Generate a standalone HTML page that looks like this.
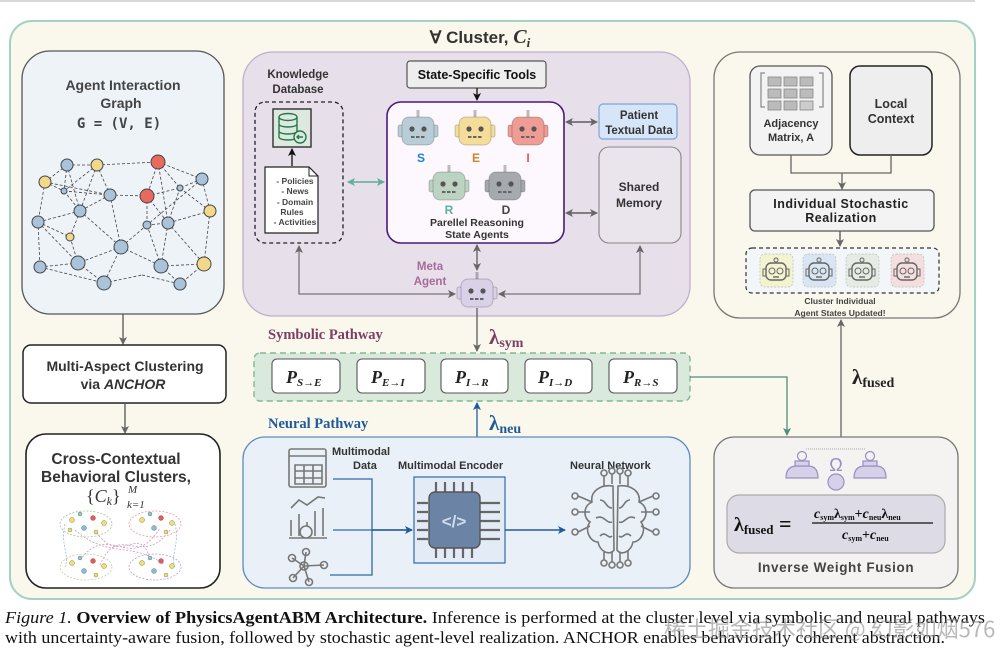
<!DOCTYPE html>
<html><head><meta charset="utf-8"><style>
html,body{margin:0;padding:0;background:#fff;}
svg{display:block;font-family:"Liberation Sans",sans-serif;}
</style></head><body>
<svg width="1008" height="660" viewBox="0 0 1008 660" xmlns="http://www.w3.org/2000/svg">
<defs>
<marker id="ag" markerWidth="8" markerHeight="8" refX="7" refY="4" orient="auto" markerUnits="userSpaceOnUse"><path d="M0,0 L8,4 L0,8 L2,4 Z" fill="#666"/></marker>
<marker id="ags" markerWidth="8" markerHeight="8" refX="1" refY="4" orient="auto" markerUnits="userSpaceOnUse"><path d="M8,0 L0,4 L8,8 L6,4 Z" fill="#666"/></marker>
<marker id="ak" markerWidth="8" markerHeight="8" refX="7" refY="4" orient="auto" markerUnits="userSpaceOnUse"><path d="M0,0 L8,4 L0,8 L2,4 Z" fill="#111"/></marker>
<marker id="agr" markerWidth="8" markerHeight="8" refX="7" refY="4" orient="auto" markerUnits="userSpaceOnUse"><path d="M0,0 L8,4 L0,8 L2,4 Z" fill="#5fae98"/></marker>
<marker id="agrs" markerWidth="8" markerHeight="8" refX="1" refY="4" orient="auto" markerUnits="userSpaceOnUse"><path d="M8,0 L0,4 L8,8 L6,4 Z" fill="#5fae98"/></marker>
<marker id="agn" markerWidth="8" markerHeight="8" refX="7" refY="4" orient="auto" markerUnits="userSpaceOnUse"><path d="M0,0 L8,4 L0,8 L2,4 Z" fill="#4d8f7a"/></marker>
<marker id="abl" markerWidth="8" markerHeight="8" refX="7" refY="4" orient="auto" markerUnits="userSpaceOnUse"><path d="M0,0 L8,4 L0,8 L2,4 Z" fill="#1f5a9a"/></marker>
<g id="rb">
<line x1="0" y1="-21" x2="0" y2="-14" stroke="rgba(0,0,0,0.25)" stroke-width="3"/>
<rect x="-20" y="-6" width="6" height="12" rx="2" stroke="rgba(0,0,0,0.2)"/>
<rect x="14" y="-6" width="6" height="12" rx="2" stroke="rgba(0,0,0,0.2)"/>
<rect x="-16" y="-14" width="32" height="28" rx="7" stroke="rgba(0,0,0,0.2)"/>
<circle cx="-6" cy="-2" r="2.6" fill="#555"/><circle cx="6" cy="-2" r="2.6" fill="#555"/>
<line x1="-7" y1="6" x2="7" y2="6" stroke="#666" stroke-width="2" stroke-dasharray="3.5 1.5"/>
</g>
<g id="rs">
<circle cx="0" cy="-12" r="2" fill="none" stroke="#666"/>
<rect x="-10" y="-9" width="20" height="17" rx="5" fill="none" stroke="#666" stroke-width="1.4"/>
<circle cx="-4" cy="-1" r="3" fill="none" stroke="#666"/><circle cx="4" cy="-1" r="3" fill="none" stroke="#666"/>
<line x1="-3" y1="5" x2="3" y2="5" stroke="#666" stroke-width="1.4"/>
<rect x="-13" y="-3" width="3" height="7" fill="none" stroke="#666"/><rect x="10" y="-3" width="3" height="7" fill="none" stroke="#666"/>
</g>
</defs>

<line x1="0" y1="1" x2="975" y2="1" stroke="#ccc" stroke-width="1.5"/>
<rect x="10" y="21" width="965" height="578" rx="22" fill="#faf7ec" stroke="#a3d2c2" stroke-width="2"/>
<text x="480" y="43" text-anchor="middle" font-size="17" font-weight="bold" fill="#333">∀ Cluster, <tspan font-family="Liberation Serif,serif" font-style="italic" font-size="20">C</tspan><tspan font-family="Liberation Serif,serif" font-style="italic" font-size="13" dy="4">i</tspan></text>

<rect x="22" y="51" width="202" height="263" rx="28" fill="#eef3f8" stroke="#555" stroke-width="1.3"/>
<text x="123" y="90" text-anchor="middle" font-size="14" font-weight="bold" fill="#444">Agent Interaction</text>
<text x="121" y="108" text-anchor="middle" font-size="14" font-weight="bold" fill="#444">Graph</text>
<text x="119" y="128" text-anchor="middle" font-size="14" font-weight="bold" fill="#444" font-family="DejaVu Sans Mono,monospace">G = (V, E)</text>
<g stroke="#444" stroke-width="0.8" stroke-dasharray="3 2" fill="none">
<path d="M67,165L97,165M97,165L158,162M158,162L202,179M67,165L45,182M67,165L64,191M97,165L64,191M97,165L110,195M158,162L147,196M158,162L180,188M202,179L180,188M202,179L210,211M45,182L64,191M45,182L38,222M64,191L110,195M64,191L80,211M110,195L147,196M110,195L80,211M147,196L180,188M147,196L147,225M147,196L168,223M180,188L168,223M180,188L210,211M210,211L204,264M80,211L38,222M80,211L70,237M80,211L121,247M38,222L40,267M38,222L70,237M147,225L168,223M147,225L121,247M147,225L161,266M168,223L161,266M168,223L204,264M70,237L78,263M121,247L78,263M121,247L161,266M121,247L104,283M40,267L78,263M40,267L104,283M78,263L104,283M161,266L204,264M161,266L180,284M204,264L180,284M104,283L142,275M142,275L180,284M110,195L121,247M158,162L168,223M97,165L80,211M38,222L78,263M67,165L80,211M210,211L168,223M45,182L110,195M202,179L147,225"/>
</g>
<g stroke="#444" stroke-width="1">
<circle cx="67" cy="165" r="6" fill="#a9c3da"/><circle cx="97" cy="165" r="6" fill="#f2d98a"/><circle cx="158" cy="162" r="7" fill="#e86a5e"/><circle cx="202" cy="179" r="6" fill="#a9c3da"/><circle cx="45" cy="182" r="6" fill="#f2d98a"/><circle cx="64" cy="191" r="3" fill="#a9c3da"/><circle cx="110" cy="195" r="6" fill="#a9c3da"/><circle cx="147" cy="196" r="7" fill="#e86a5e"/><circle cx="180" cy="188" r="3" fill="#a9c3da"/><circle cx="210" cy="211" r="6" fill="#f2d98a"/><circle cx="80" cy="211" r="6" fill="#a9c3da"/><circle cx="38" cy="222" r="6" fill="#a9c3da"/><circle cx="147" cy="225" r="4" fill="#a9c3da"/><circle cx="168" cy="223" r="6" fill="#a9c3da"/><circle cx="70" cy="237" r="4" fill="#f2d98a"/><circle cx="121" cy="247" r="7" fill="#a9c3da"/><circle cx="40" cy="267" r="6" fill="#a9c3da"/><circle cx="78" cy="263" r="7" fill="#a9c3da"/><circle cx="161" cy="266" r="7" fill="#a9c3da"/><circle cx="204" cy="264" r="7" fill="#f2d98a"/><circle cx="104" cy="283" r="7" fill="#a9c3da"/><circle cx="180" cy="284" r="6" fill="#a9c3da"/>
</g>
<line x1="123" y1="314" x2="123" y2="344" stroke="#555" stroke-width="1.3" marker-end="url(#ag)"/>

<rect x="23" y="345" width="203" height="58" rx="8" fill="#fff" stroke="#222" stroke-width="1.5"/>
<text x="125" y="371" text-anchor="middle" font-size="14" font-weight="bold" fill="#333">Multi-Aspect Clustering</text>
<text x="123" y="389" text-anchor="middle" font-size="14" font-weight="bold" fill="#333">via <tspan font-style="italic">ANCHOR</tspan></text>
<line x1="125" y1="403" x2="125" y2="433" stroke="#555" stroke-width="1.3" marker-end="url(#ag)"/>
<rect x="26" y="434" width="194" height="154" rx="20" fill="#fff" stroke="#222" stroke-width="1.6"/>
<text x="116" y="464" text-anchor="middle" font-size="15.5" font-weight="bold" fill="#333">Cross-Contextual</text>
<text x="116" y="482" text-anchor="middle" font-size="15.5" font-weight="bold" fill="#333">Behavioral Clusters,</text>
<text x="86" y="502" font-family="Liberation Serif,serif" font-size="18" fill="#333">{<tspan font-style="italic">C</tspan><tspan font-size="12" font-style="italic" dy="3">k</tspan><tspan dy="-3">}</tspan></text>
<text x="128" y="493" font-family="Liberation Serif,serif" font-size="11" font-style="italic" fill="#333">M</text>
<text x="127" y="508" font-family="Liberation Serif,serif" font-size="11" font-style="italic" fill="#333">k=1</text>
<g fill="none" stroke-width="0.8" stroke-dasharray="2 1.5">
<ellipse cx="86" cy="524" rx="26" ry="13" stroke="#9c9"/><ellipse cx="155" cy="524" rx="26" ry="13" stroke="#e9a"/>
<ellipse cx="86" cy="567" rx="26" ry="13" stroke="#cc9"/><ellipse cx="155" cy="567" rx="26" ry="13" stroke="#b9e"/>
<path d="M75,530 C110,560 130,540 165,565 M95,530 C120,570 140,520 150,560 M80,560 C110,520 130,575 160,528 M100,565 C120,520 140,570 170,530" stroke="#c9b"/>
<path d="M65,524 C60,545 70,555 65,567 M175,524 C180,545 170,555 175,567" stroke="#9bd"/>
</g>
<g stroke="#666" stroke-width="0.4">
<circle cx="72" cy="520" r="2.5" fill="#f2e06a"/><circle cx="80" cy="514" r="2" fill="#8cc"/><circle cx="93" cy="518" r="2.5" fill="#e55"/><circle cx="104" cy="523" r="2.5" fill="#f2e06a"/><circle cx="84" cy="528" r="2.5" fill="#8bd"/><circle cx="96" cy="532" r="2" fill="#f2e06a"/><circle cx="70" cy="530" r="2" fill="#f2e06a"/>
<circle cx="142" cy="520" r="2.5" fill="#f2e06a"/><circle cx="150" cy="514" r="2" fill="#8cc"/><circle cx="161" cy="518" r="2.5" fill="#e55"/><circle cx="172" cy="523" r="2.5" fill="#f2e06a"/><circle cx="154" cy="528" r="2.5" fill="#8bd"/><circle cx="166" cy="532" r="2" fill="#f2e06a"/>
<circle cx="72" cy="563" r="2.5" fill="#f2e06a"/><circle cx="80" cy="558" r="2" fill="#8cc"/><circle cx="93" cy="561" r="2.5" fill="#e55"/><circle cx="104" cy="566" r="2.5" fill="#f2e06a"/><circle cx="84" cy="571" r="2.5" fill="#8bd"/><circle cx="96" cy="575" r="2" fill="#f2e06a"/>
<circle cx="142" cy="563" r="2.5" fill="#f2e06a"/><circle cx="150" cy="558" r="2" fill="#8cc"/><circle cx="161" cy="561" r="2.5" fill="#e55"/><circle cx="172" cy="566" r="2.5" fill="#f2e06a"/><circle cx="154" cy="571" r="2.5" fill="#8bd"/><circle cx="166" cy="575" r="2" fill="#f2e06a"/>
</g>

<rect x="243" y="52" width="447" height="264" rx="30" fill="#e7dfea" stroke="#bfb0cc" stroke-width="1.3"/>
<text x="298" y="78" text-anchor="middle" font-size="11.5" font-weight="bold" fill="#333">Knowledge</text>
<text x="298" y="93" text-anchor="middle" font-size="11.5" font-weight="bold" fill="#333">Database</text>
<rect x="255" y="102" width="88" height="141" rx="10" fill="none" stroke="#222" stroke-width="1.3" stroke-dasharray="4 3"/>
<rect x="273" y="109" width="38" height="38" fill="#dfe8e0" stroke="#222" stroke-width="1.3"/>
<g fill="none" stroke="#1f7a4a" stroke-width="1.4">
<ellipse cx="288" cy="117" rx="9" ry="3.5"/><path d="M279,117 V137 C279,141 297,141 297,137 V117 M279,124 C279,128 297,128 297,124 M279,131 C279,135 297,135 297,131"/>
<circle cx="300" cy="137" r="6" fill="#dfe8e0"/><path d="M303,137 H297 M299,135 L297,137 L299,139"/>
</g>
<line x1="292" y1="166" x2="292" y2="149" stroke="#111" stroke-width="1.3" marker-end="url(#ak)"/>
<path d="M265,167 H309 L318,176 V233 H265 Z" fill="#fff" stroke="#222" stroke-width="1.2"/>
<path d="M309,167 V176 H318" fill="none" stroke="#222"/>
<g font-size="8.5" font-weight="bold" fill="#444" text-anchor="middle">
<text x="295" y="184">- Policies</text><text x="295" y="194">- News</text><text x="295" y="205">- Domain</text><text x="292" y="215">Rules</text><text x="295" y="225">-  Activities</text>
</g>
<line x1="348" y1="182" x2="384" y2="182" stroke="#5fae98" stroke-width="1.5" marker-end="url(#agr)" marker-start="url(#agrs)"/>
<rect x="407" y="61" width="139" height="27" rx="3" fill="#eee" stroke="#555" stroke-width="1.2"/>
<text x="477" y="79" text-anchor="middle" font-size="12.5" font-weight="bold" fill="#111">State-Specific Tools</text>
<line x1="477" y1="88" x2="477" y2="100" stroke="#111" stroke-width="1.3" marker-end="url(#ak)"/>
<rect x="387" y="102" width="177" height="141" rx="14" fill="#fdf8fd" stroke="#4b1a7a" stroke-width="1.6"/>
<use href="#rb" x="418" y="131" fill="#b9cdd6"/><use href="#rb" x="475" y="131" fill="#f4dd98"/><use href="#rb" x="528" y="131" fill="#ee9c94"/>
<use href="#rb" x="449" y="186" fill="#bcd3c2"/><use href="#rb" x="505" y="186" fill="#a6aaae"/>
<g font-size="12" font-weight="bold" text-anchor="middle">
<text x="421" y="162" fill="#1d7fe0">S</text><text x="476" y="162" fill="#d2822a">E</text><text x="528" y="162" fill="#e05a5a">I</text>
<text x="449" y="214" fill="#5db0a0">R</text><text x="506" y="214" fill="#444">D</text>
</g>
<text x="477" y="226" text-anchor="middle" font-size="10.5" font-weight="bold" fill="#333">Parellel Reasoning</text>
<text x="477" y="238" text-anchor="middle" font-size="10.5" font-weight="bold" fill="#333">State Agents</text>
<rect x="599" y="104" width="78" height="35" rx="4" fill="#d6e5f7" stroke="#7ba7d8" stroke-width="1.2"/>
<text x="639" y="119" text-anchor="middle" font-size="11.5" font-weight="bold" fill="#333">Patient</text>
<text x="639" y="134" text-anchor="middle" font-size="11.5" font-weight="bold" fill="#333">Textual Data</text>
<rect x="599" y="147" width="82" height="96" rx="10" fill="#eae4ec" stroke="#888" stroke-width="1.1"/>
<text x="639" y="191" text-anchor="middle" font-size="12" font-weight="bold" fill="#333">Shared</text>
<text x="639" y="207" text-anchor="middle" font-size="12" font-weight="bold" fill="#333">Memory</text>
<line x1="566" y1="122" x2="597" y2="122" stroke="#444" stroke-width="1.3" marker-end="url(#ag)" marker-start="url(#ags)"/>
<line x1="566" y1="213" x2="597" y2="213" stroke="#444" stroke-width="1.3" marker-end="url(#ag)" marker-start="url(#ags)"/>
<line x1="477" y1="245" x2="477" y2="270" stroke="#666" stroke-width="1.4" marker-end="url(#ag)" marker-start="url(#ags)"/>
<text x="430" y="270" text-anchor="middle" font-size="11.5" font-weight="bold" fill="#a86a9a">Meta</text>
<text x="430" y="285" text-anchor="middle" font-size="11.5" font-weight="bold" fill="#a86a9a">Agent</text>
<use href="#rb" x="477" y="293" fill="#d9d1e8"/>
<path d="M454,294 H299 V246" fill="none" stroke="#777" stroke-width="1.3" marker-end="url(#ag)"/>
<line x1="454" y1="294" x2="455" y2="294" stroke="#777" marker-end="url(#ag)"/>
<path d="M499,294 H640 V246" fill="none" stroke="#777" stroke-width="1.3" marker-end="url(#ag)"/>
<line x1="500" y1="294" x2="499" y2="294" stroke="#777" marker-end="url(#ag)"/>

<text x="268" y="339" font-family="Liberation Serif,serif" font-size="14.5" font-weight="bold" fill="#7d3e64">Symbolic Pathway</text>
<line x1="477" y1="308" x2="477" y2="351" stroke="#666" stroke-width="1.4" marker-end="url(#ag)"/>
<text x="489" y="344" font-family="Liberation Serif,serif" font-size="21" font-weight="bold" fill="#7d3e64">λ<tspan font-size="14" dy="3">sym</tspan></text>
<rect x="254" y="353" width="436" height="48" rx="6" fill="#d9e9dc" stroke="#82b894" stroke-width="1.4" stroke-dasharray="6 4"/>
<g fill="#fff" stroke="#555" stroke-width="1.1">
<rect x="272" y="359" width="68" height="34" rx="5"/><rect x="357" y="359" width="68" height="34" rx="5"/><rect x="441" y="359" width="67" height="34" rx="5"/><rect x="525" y="359" width="67" height="34" rx="5"/><rect x="609" y="359" width="68" height="34" rx="5"/>
</g>
<g font-family="Liberation Serif,serif" font-style="italic" font-weight="bold" fill="#222" font-size="18">
<text x="286" y="383">P<tspan font-size="11" dy="3">S→E</tspan></text>
<text x="371" y="383">P<tspan font-size="11" dy="3">E→I</tspan></text>
<text x="455" y="383">P<tspan font-size="11" dy="3">I→R</tspan></text>
<text x="538" y="383">P<tspan font-size="11" dy="3">I→D</tspan></text>
<text x="623" y="383">P<tspan font-size="11" dy="3">R→S</tspan></text>
</g>
<path d="M690,377 H787 V435" fill="none" stroke="#4d8f7a" stroke-width="1.3" marker-end="url(#agn)"/>

<text x="268" y="428" font-family="Liberation Serif,serif" font-size="14.5" font-weight="bold" fill="#1f5a9a">Neural Pathway</text>
<line x1="477" y1="437" x2="477" y2="403" stroke="#2f6aa8" stroke-width="1.4" marker-end="url(#abl)"/>
<text x="489" y="430" font-family="Liberation Serif,serif" font-size="21" font-weight="bold" fill="#1f5a9a">λ<tspan font-size="14" dy="3">neu</tspan></text>
<rect x="243" y="437" width="447" height="151" rx="22" fill="#e9f0f8" stroke="#5d8cc2" stroke-width="1.3"/>
<g font-size="11" font-weight="bold" fill="#333">
<text x="332" y="455">Multimodal</text><text x="353" y="469">Data</text>
<text x="398" y="469">Multimodal Encoder</text><text x="570" y="469">Neural Network</text>
</g>
<g fill="none" stroke="#777" stroke-width="1.6">
<rect x="289" y="449" width="37" height="38" rx="2"/><line x1="289" y1="456" x2="326" y2="456"/><path d="M295,465 H322 V484 H295 Z M295,471 H322 M295,478 H322 M304,465 V484 M313,465 V484"/>
<path d="M291,520 V536 M299,514 V536 M307,522 V536 M315,511 V536 M323,508 V536 M289,538 H327"/><path d="M291,508 L299,500 L307,505 L318,497 L325,498"/><circle cx="306" cy="532" r="6" fill="#e9f0f8"/>
<circle cx="304" cy="566" r="4"/><circle cx="292" cy="558" r="3.5"/><circle cx="306" cy="552" r="3.5"/><circle cx="324" cy="565" r="3.5"/><circle cx="293" cy="578" r="3.5"/><circle cx="309" cy="582" r="3.5"/><path d="M304,566 L292,558 M304,566 L306,552 M304,566 L324,565 M304,566 L293,578 M304,566 L309,582"/>
</g>
<path d="M333,479 H372 V575 H330 M333,530 H412" fill="none" stroke="#2f6aa8" stroke-width="1.3"/>
<line x1="372" y1="530" x2="412" y2="530" stroke="#1f5a9a" stroke-width="1.6" marker-end="url(#abl)"/>
<rect x="414" y="477" width="91" height="86" fill="#e3ecf6" stroke="#2f6aa8" stroke-width="1.2"/>
<g stroke="#666" stroke-width="2.2">
<path d="M436,482 V492 M445,482 V492 M454,482 V492 M463,482 V492 M472,482 V492 M436,548 V558 M445,548 V558 M454,548 V558 M463,548 V558 M472,548 V558 M417,503 H428 M417,512 H428 M417,521 H428 M417,530 H428 M417,539 H428 M480,503 H500 M480,512 H500 M480,521 H500 M480,530 H500 M480,539 H500"/>
</g>
<rect x="429" y="492" width="51" height="56" rx="6" fill="#6b84a6" stroke="#555" stroke-width="1.4"/>
<text x="454" y="527" text-anchor="middle" font-size="17" font-weight="bold" fill="#cfdcec">&lt;/&gt;</text>
<line x1="505" y1="530" x2="565" y2="530" stroke="#1f5a9a" stroke-width="1.4" marker-end="url(#abl)"/>
<g fill="none" stroke="#777" stroke-width="1.6">
<path d="M613,486 C600,484 590,492 592,502 C583,506 583,518 590,522 C584,530 590,542 598,542 C600,552 610,556 614,550 Z M618,486 C631,484 641,492 639,502 C648,506 648,518 641,522 C647,530 641,542 633,542 C631,552 621,556 617,550 Z"/>
<path d="M600,500 C606,500 606,508 612,508 M596,518 C604,514 606,524 612,522 M600,536 C606,530 608,540 612,536 M630,500 C624,500 624,508 619,508 M635,518 C627,514 625,524 619,522 M631,536 C625,530 623,540 619,536"/>
<path d="M590,512 H578 M592,502 L578,496 M590,526 L578,532 M641,512 H653 M639,502 L653,496 M641,526 L653,532 M604,486 V476 M612,484 V474 M620,484 V474 M628,486 V476 M604,552 V560 M612,552 V562 M620,552 V562 M628,550 V560"/>
<circle cx="575" cy="512" r="3"/><circle cx="575" cy="496" r="3"/><circle cx="575" cy="532" r="3"/><circle cx="656" cy="512" r="3"/><circle cx="656" cy="496" r="3"/><circle cx="656" cy="532" r="3"/><circle cx="604" cy="473" r="3"/><circle cx="612" cy="471" r="3"/><circle cx="620" cy="471" r="3"/><circle cx="628" cy="473" r="3"/><circle cx="604" cy="563" r="3"/><circle cx="612" cy="565" r="3"/><circle cx="620" cy="565" r="3"/><circle cx="628" cy="563" r="3"/>
</g>

<rect x="714" y="52" width="246" height="266" rx="26" fill="#faf7ec" stroke="#777" stroke-width="1.3"/>
<rect x="750" y="66" width="82" height="89" rx="10" fill="#f3f3f3" stroke="#555" stroke-width="1.3"/>
<path d="M765,73 H761 V107 H765 M819,73 H823 V107 H819" fill="none" stroke="#888" stroke-width="1.2"/>
<g fill="#bbb" stroke="#888" stroke-width="0.8">
<rect x="768" y="77" width="13" height="9"/><rect x="784" y="77" width="13" height="9"/><rect x="800" y="77" width="13" height="9"/>
<rect x="768" y="89" width="13" height="9"/><rect x="784" y="89" width="13" height="9"/><rect x="800" y="89" width="13" height="9"/>
<rect x="768" y="101" width="13" height="9"/><rect x="784" y="101" width="13" height="9"/><rect x="800" y="101" width="13" height="9" fill="#ccc"/>
</g>
<text x="791" y="127" text-anchor="middle" font-size="11" font-weight="bold" fill="#333">Adjacency</text>
<text x="791" y="141" text-anchor="middle" font-size="11" font-weight="bold" fill="#333">Matrix, A</text>
<rect x="850" y="66" width="82" height="89" rx="10" fill="#eee" stroke="#222" stroke-width="1.5"/>
<text x="891" y="108" text-anchor="middle" font-size="12.5" font-weight="bold" fill="#333">Local</text>
<text x="891" y="123" text-anchor="middle" font-size="12.5" font-weight="bold" fill="#333">Context</text>
<path d="M791,155 V173 H891 V155" fill="none" stroke="#666" stroke-width="1.3"/>
<line x1="842" y1="173" x2="842" y2="189" stroke="#666" stroke-width="1.3" marker-end="url(#ag)"/>
<rect x="750" y="190" width="184" height="41" rx="5" fill="#f3f3f3" stroke="#555" stroke-width="1.3"/>
<text x="841" y="208" text-anchor="middle" font-size="12.5" font-weight="bold" fill="#222" letter-spacing="0.5">Individual Stochastic</text>
<text x="841" y="222" text-anchor="middle" font-size="12.5" font-weight="bold" fill="#222" letter-spacing="0.5">Realization</text>
<line x1="840" y1="231" x2="840" y2="246" stroke="#555" stroke-width="1.3" marker-end="url(#ag)"/>
<rect x="746" y="248" width="193" height="45" rx="6" fill="#f2f6f8" stroke="#333" stroke-width="1.2" stroke-dasharray="4 3"/>
<g stroke="#bbb" stroke-width="0.7" stroke-dasharray="2 1.5">
<rect x="760" y="254" width="33" height="33" rx="5" fill="#f3f3cf"/><rect x="803" y="254" width="33" height="33" rx="5" fill="#d8e5f2"/><rect x="846" y="254" width="33" height="33" rx="5" fill="#e4ece4"/><rect x="891" y="254" width="33" height="33" rx="5" fill="#f4dede"/>
</g>
<use href="#rs" x="776" y="272"/><use href="#rs" x="819" y="272"/><use href="#rs" x="862" y="272"/><use href="#rs" x="907" y="272"/>
<text x="840" y="304" text-anchor="middle" font-size="8.5" font-weight="bold" fill="#444">Cluster Individual</text>
<text x="840" y="316" text-anchor="middle" font-size="8.5" font-weight="bold" fill="#444">Agent States Updated!</text>
<line x1="841" y1="437" x2="841" y2="320" stroke="#666" stroke-width="1.3" marker-end="url(#ag)"/>
<text x="852" y="384" font-family="Liberation Serif,serif" font-size="21" font-weight="bold" fill="#222">λ<tspan font-size="14" dy="3">fused</tspan></text>

<rect x="714" y="437" width="244" height="151" rx="20" fill="#f4f3f2" stroke="#777" stroke-width="1.3"/>
<g fill="#d6d0e8" stroke="#9a8ec0" stroke-width="1.2">
<path d="M786,478 Q786,466 797,466 H808 Q818,466 818,478 Z"/><circle cx="802" cy="456" r="4.5" fill="none"/><rect x="795" y="461" width="14" height="5"/>
<path d="M854,478 Q854,466 865,466 H876 Q886,466 886,478 Z"/><circle cx="870" cy="456" r="4.5" fill="none"/><rect x="863" y="461" width="14" height="5"/>
<circle cx="836" cy="482" r="8"/>
</g>
<line x1="806" y1="449" x2="866" y2="449" stroke="#aaa" stroke-dasharray="1 1"/>
<text x="836" y="471" text-anchor="middle" font-size="18" fill="#9a8ec0">Ω</text>
<rect x="727" y="495" width="218" height="58" rx="12" fill="#dddbe6" stroke="#aaa" stroke-width="1.2"/>
<text x="734" y="531" font-family="Liberation Serif,serif" font-size="20" font-weight="bold" fill="#111">λ<tspan font-size="13" dy="3">fused</tspan><tspan dy="-3" font-size="22"> =</tspan></text>
<line x1="812" y1="523" x2="933" y2="523" stroke="#111" stroke-width="1.3"/>
<text x="814" y="518" font-family="Liberation Serif,serif" font-size="14" font-weight="bold" font-style="italic" fill="#111">c<tspan font-size="8" dy="2" font-style="normal">sym</tspan><tspan dy="-2" font-style="normal">λ</tspan><tspan font-size="8" dy="2" font-style="normal">sym</tspan><tspan dy="-2" font-style="normal">+</tspan>c<tspan font-size="8" dy="2" font-style="normal">neu</tspan><tspan dy="-2" font-style="normal">λ</tspan><tspan font-size="8" dy="2" font-style="normal">neu</tspan></text>
<text x="842" y="539" font-family="Liberation Serif,serif" font-size="14" font-weight="bold" font-style="italic" fill="#111">c<tspan font-size="8" dy="2" font-style="normal">sym</tspan><tspan dy="-2" font-style="normal">+</tspan>c<tspan font-size="8" dy="2" font-style="normal">neu</tspan></text>
<text x="836" y="572" text-anchor="middle" font-size="13.5" font-weight="bold" fill="#444" letter-spacing="0.6">Inverse Weight Fusion</text>

<text x="5" y="623" font-family="Liberation Serif,serif" font-size="17" fill="#111" textLength="980" lengthAdjust="spacingAndGlyphs"><tspan font-style="italic">Figure 1.</tspan> <tspan font-weight="bold">Overview of PhysicsAgentABM Architecture.</tspan> Inference is performed at the cluster level via symbolic and neural pathways</text>
<text x="5" y="643" font-family="Liberation Serif,serif" font-size="17" fill="#111" textLength="940" lengthAdjust="spacingAndGlyphs">with uncertainty-aware fusion, followed by stochastic agent-level realization. ANCHOR enables behaviorally coherent abstraction.</text>
<text x="664" y="637" font-family="'Noto Sans CJK SC',sans-serif" font-size="22" fill="#888" fill-opacity="0.6">稀土掘金技术社区 @ 幻影如烟576</text>
</svg>
</body></html>
